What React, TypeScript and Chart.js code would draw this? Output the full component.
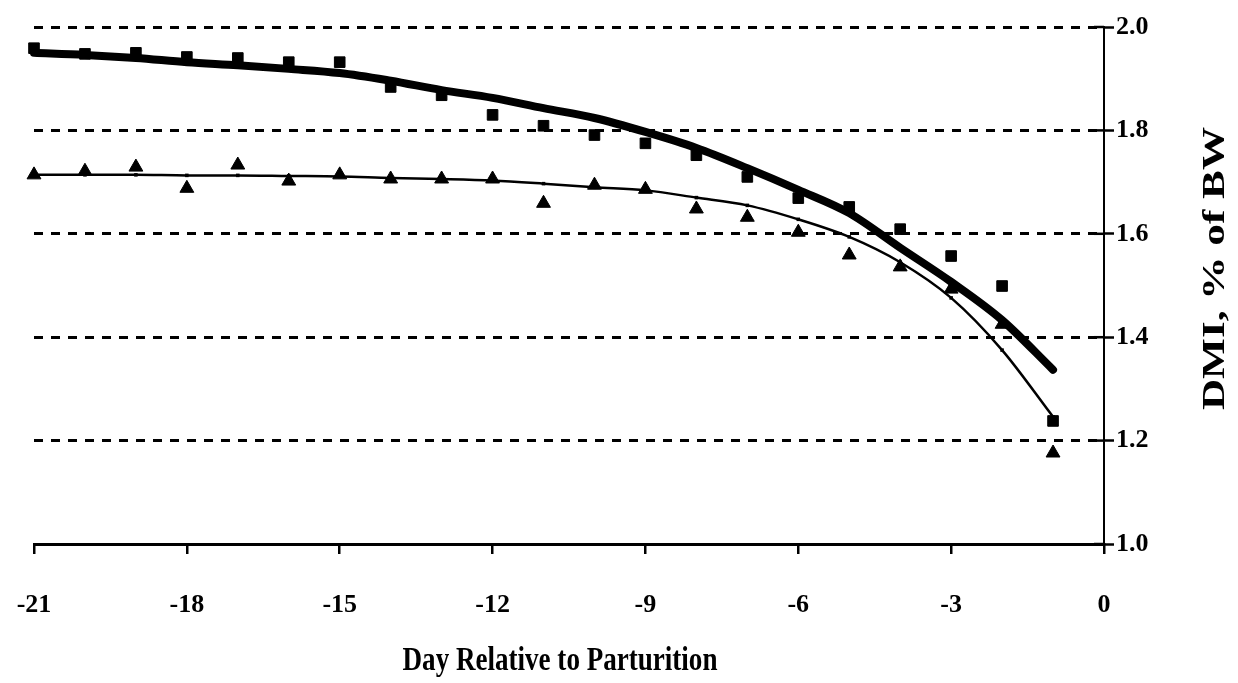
import React, { useEffect, useRef } from "react";
import { Chart, registerables } from "chart.js";

Chart.register(...registerables);

// ---- data ----
const days = [-21, -20, -19, -18, -17, -16, -15, -14, -13, -12, -11, -10, -9, -8, -7, -6, -5, -4, -3, -2, -1];
const squareValues = [1.959, 1.948, 1.95, 1.942, 1.94, 1.932, 1.932, 1.884, 1.868, 1.83, 1.809, 1.791, 1.775, 1.752, 1.71, 1.669, 1.652, 1.609, 1.557, 1.499, 1.238];
const triangleValues = [1.714, 1.721, 1.729, 1.688, 1.733, 1.702, 1.714, 1.706, 1.706, 1.706, 1.659, 1.694, 1.686, 1.648, 1.632, 1.603, 1.559, 1.536, 1.493, 1.425, 1.176];
const thickFitValues = [1.95, 1.946, 1.94, 1.932, 1.926, 1.919, 1.911, 1.896, 1.878, 1.863, 1.843, 1.824, 1.797, 1.766, 1.727, 1.685, 1.64, 1.573, 1.507, 1.433, 1.337];
const thinFitValues = [1.714, 1.714, 1.714, 1.713, 1.713, 1.712, 1.711, 1.708, 1.706, 1.703, 1.697, 1.69, 1.684, 1.67, 1.655, 1.628, 1.594, 1.545, 1.476, 1.375, 1.246];
const xTickValues = [-21, -18, -15, -12, -9, -6, -3, 0];
const yTickValues = [1.0, 1.2, 1.4, 1.6, 1.8, 2.0];
const xTitle = "Day Relative to Parturition";
const yTitle = "DMI, % of BW";

const FONT = "'Liberation Serif', 'Times New Roman', serif";

const toPoints = (vals: number[]) => days.map((d, i) => ({ x: d, y: vals[i] }));

const decorPlugin = {
  id: "decor",
  afterDraw(chart: any) {
    const { ctx, chartArea, scales } = chart;
    const y = scales.y;
    ctx.save();
    ctx.strokeStyle = "#000";
    ctx.lineWidth = 2.5;
    ctx.setLineDash([]);
    yTickValues.forEach((v) => {
      const py = y.getPixelForValue(v);
      ctx.beginPath();
      ctx.moveTo(chartArea.right - 10, py);
      ctx.lineTo(chartArea.right, py);
      ctx.stroke();
    });
    ctx.restore();

    // x-axis title (slightly condensed, as in the reference)
    ctx.save();
    ctx.font = `bold 33px ${FONT}`;
    ctx.fillStyle = "#000";
    ctx.textAlign = "center";
    ctx.textBaseline = "alphabetic";
    ctx.translate((chartArea.left + chartArea.right) / 2 - 9, chart.height - 13);
    ctx.scale(0.82, 1);
    ctx.fillText(xTitle, 0, 0);
    ctx.restore();

    // rotated y title (reads bottom to top)
    ctx.save();
    ctx.font = `bold 36px ${FONT}`;
    ctx.fillStyle = "#000";
    ctx.textAlign = "center";
    ctx.textBaseline = "middle";
    ctx.translate(chart.width - 22, (chartArea.top + chartArea.bottom) / 2 - 17);
    ctx.rotate(-Math.PI / 2);
    ctx.scale(1.2, 0.85);
    ctx.fillText(yTitle, 0, 0);
    ctx.restore();
  },
};

export default function App() {
  const ref = useRef<HTMLCanvasElement | null>(null);
  useEffect(() => {
    if (!ref.current) return;
    const chart = new Chart(ref.current, {
      type: "scatter",
      data: {
        datasets: [
          {
            label: "fit A",
            data: toPoints(thickFitValues),
            showLine: true,
            clip: false,
            borderColor: "#000",
            backgroundColor: "#000",
            borderWidth: 8,
            borderCapStyle: "round",
            borderJoinStyle: "round",
            cubicInterpolationMode: "monotone",
            pointRadius: 0,
          },
          {
            label: "fit B",
            data: toPoints(thinFitValues),
            showLine: true,
            clip: false,
            borderColor: "#000",
            backgroundColor: "#000",
            borderWidth: 2.5,
            cubicInterpolationMode: "monotone",
            pointStyle: "rect",
            pointRadius: 2.5,
            pointBorderWidth: 0,
          },
          {
            label: "squares",
            data: toPoints(squareValues),
            showLine: false,
            clip: false,
            pointStyle: "rect",
            pointRadius: 7.5,
            pointBackgroundColor: "#000",
            pointBorderColor: "#000",
            pointBorderWidth: 1,
          },
          {
            label: "triangles",
            data: toPoints(triangleValues),
            showLine: false,
            clip: false,
            pointStyle: "triangle",
            pointRadius: 8,
            pointBackgroundColor: "#000",
            pointBorderColor: "#000",
            pointBorderWidth: 1,
          },
        ],
      },
      options: {
        animation: false,
        responsive: false,
        maintainAspectRatio: false,
        layout: { padding: { left: 34, top: 27, right: 0, bottom: 0 } },
        plugins: { legend: { display: false }, tooltip: { enabled: false } },
        scales: {
          x: {
            type: "linear",
            position: "bottom",
            min: -21,
            max: 0,
            afterBuildTicks: (s: any) => {
              s.ticks = xTickValues.map((v) => ({ value: v }));
            },
            afterFit: (s: any) => {
              s.height = 139;
              s.paddingLeft = 0;
              s.paddingRight = 0;
            },
            grid: {
              drawOnChartArea: false,
              drawTicks: true,
              tickLength: 10,
              color: "#000",
              lineWidth: 2.5,
            },
            border: { display: true, color: "#000", width: 3 },
            ticks: {
              color: "#000",
              font: { family: FONT, size: 26, weight: "bold" },
              padding: 36,
              maxRotation: 0,
              callback: (v: any) => String(v),
            },
            title: { display: false, text: xTitle },
          },
          y: {
            type: "linear",
            position: "right",
            min: 1.0,
            max: 2.0,
            afterBuildTicks: (s: any) => {
              s.ticks = yTickValues.map((v) => ({ value: v }));
            },
            afterFit: (s: any) => {
              s.width = 134;
            },
            grid: {
              drawOnChartArea: true,
              drawTicks: true,
              tickLength: 10,
              color: "#000",
              lineWidth: 3,
              tickWidth: 2.5,
              tickBorderDash: [],
            },
            border: { display: true, color: "#000", width: 2, dash: [9, 8] },
            ticks: {
              color: "#000",
              font: { family: FONT, size: 26, weight: "bold" },
              padding: 2,
              callback: (v: any) => Number(v).toFixed(1),
            },
            title: { display: false, text: yTitle },
          },
        },
      },
      plugins: [decorPlugin],
    } as any);
    return () => chart.destroy();
  }, []);
  return (
    <div style={{ position: "fixed", left: 0, top: 0, width: 1238, height: 683, background: "#fff" }}>
      <canvas ref={ref} width={1238} height={683} style={{ width: 1238, height: 683 }} />
    </div>
  );
}
